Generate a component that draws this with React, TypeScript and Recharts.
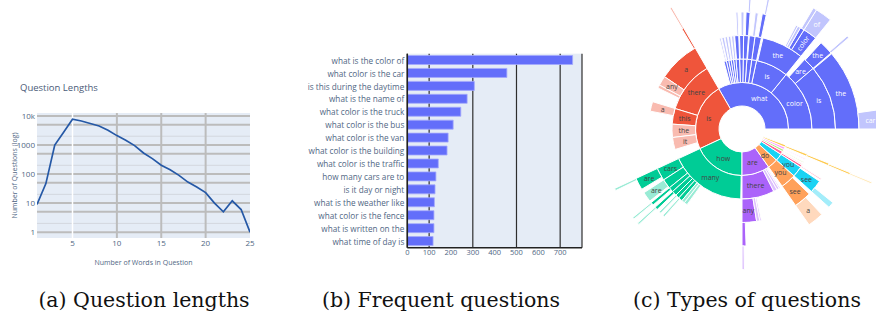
import { LineChart, Line, XAxis, YAxis, CartesianGrid, ReferenceLine, BarChart, Bar, PieChart, Pie, Cell } from 'recharts';

const FONT = '"Open Sans", "Noto Sans", sans-serif';
const AXIS_TEXT = '#506784';
const PLOT_BG = '#e5ecf6';

// (a) question lengths
const wordCounts = [1, 2, 3, 4, 5, 6, 7, 8, 9, 10, 11, 12, 13, 14, 15, 16, 17, 18, 19, 20, 21, 22, 23, 24, 25];
const questionCounts = [9, 47, 1000, 2750, 7700, 6700, 5500, 4500, 3200, 2100, 1450, 950, 530, 340, 200, 140, 90, 53, 36, 23, 10, 5, 12, 6, 1];
const logTicks = [1, 2, 5, 10, 20, 50, 100, 200, 500, 1000, 2000, 5000, 10000];
const wordTicks = [5, 10, 15, 20, 25];

// (b) frequent questions
const questions = [
  'what is the color of', 'what color is the car', 'is this during the daytime', 'what is the name of',
  'what color is the truck', 'what color is the bus', 'what color is the van', 'what color is the building',
  'what color is the traffic', 'how many cars are to', 'is it day or night', 'what is the weather like',
  'what color is the fence', 'what is written on the', 'what time of day is',
];
const questionFreq = [757, 456, 307, 274, 245, 210, 187, 182, 142, 131, 127, 124, 122, 122, 118];
const freqTicks = [0, 100, 200, 300, 400, 500, 600, 700];

// (c) types of questions: share of the full circle (degrees), one list per ring
const ring1 = [
  { id: 'what', v: 120 }, { id: 'is', v: 85 }, { id: 'how', v: 65 }, { id: 'are', v: 35 },
  { id: 'do', v: 13 }, { id: 'can', v: 9 }, { id: 'does', v: 4 }, { id: 'has', v: 3 },
  { id: 'which', v: 3 }, { id: 'where', v: 3 },
];
const ring2 = [
  { id: 'what/color', v: 51 }, { id: 'what/is', v: 27 }, { id: 'what/kind', v: 4 }, { id: 'what/type', v: 4 },
  { id: 'what/time', v: 3 }, { id: 'what/sport', v: 3 }, { id: 'what/animal', v: 3 }, { id: 'what/room', v: 2 },
  { id: 'what/brand', v: 2 }, { id: 'what/does', v: 2 }, { id: 'what/are', v: 2 }, { id: 'what/number', v: 2 },
  { id: 'is/there', v: 43 }, { id: 'is/this', v: 13 }, { id: 'is/the', v: 11 }, { id: 'is/it', v: 10 },
  { id: 'how/many', v: 64 },
  { id: 'are/there', v: 27 }, { id: 'are/the', v: 3 }, { id: 'are/these', v: 2 }, { id: 'are/they', v: 1 },
  { id: 'do/you', v: 13 }, { id: 'can/you', v: 9 },
  { id: 'does/the', v: 2 }, { id: 'does/this', v: 1 }, { id: 'has/the', v: 1 },
  { id: 'which/of', v: 1 }, { id: 'where/is', v: 2 },
];
const ring3 = [
  { id: 'what/color/is', v: 40.5 }, { id: 'what/color/are', v: 7.5 }, { id: 'what/is/the', v: 26 },
  { id: 'what/kind/of', v: 4 }, { id: 'what/type/of', v: 3.5 }, { id: 'what/time/is', v: 3 },
  { id: 'what/sport/is', v: 2.5 }, { id: 'what/animal/is', v: 2.5 }, { id: 'what/room/is', v: 1.5 },
  { id: 'what/brand/is', v: 1.5 }, { id: 'what/does/the', v: 1.5 }, { id: 'what/are/the', v: 1.5 },
  { id: 'what/number/is', v: 1 },
  { id: 'is/there/a', v: 26 }, { id: 'is/there/any', v: 6 }, { id: 'is/there/an', v: 2 }, { id: 'is/this/a', v: 6 },
  { id: 'how/many/cars', v: 8 }, { id: 'how/many/people', v: 6 }, { id: 'how/many/birds', v: 3 },
  { id: 'how/many/planes', v: 3 }, { id: 'how/many/trains', v: 2.5 }, { id: 'how/many/animals', v: 2.5 },
  { id: 'how/many/windows', v: 2 }, { id: 'how/many/trees', v: 2 },
  { id: 'are/there/any', v: 9 }, { id: 'are/there/people', v: 2 }, { id: 'are/there/clouds', v: 1 },
  { id: 'do/you/see', v: 11 }, { id: 'can/you/see', v: 8 }, { id: 'does/the/man', v: 1 },
  { id: 'where/is/the', v: 1.5 },
];
const ring4 = [
  { id: 'what/color/is/the', v: 40 }, { id: 'what/color/are/the', v: 7 },
  { id: 'what/is/the/color', v: 7 }, { id: 'what/is/the/name', v: 2 }, { id: 'what/is/the/man', v: 1.5 },
  { id: 'what/is/the/person', v: 1 },
  { id: 'what/kind/of/animal', v: 2 }, { id: 'what/type/of/food', v: 1.5 }, { id: 'what/time/is/it', v: 2 },
  { id: 'what/sport/is/being', v: 1.5 }, { id: 'what/animal/is/this', v: 1 },
  { id: 'is/there/a/person', v: 1 },
  { id: 'how/many/cars/are', v: 6 }, { id: 'how/many/people/are', v: 5 }, { id: 'how/many/birds/are', v: 1.5 },
  { id: 'how/many/planes/are', v: 1.5 }, { id: 'how/many/trains/are', v: 1 }, { id: 'how/many/animals/are', v: 1 },
  { id: 'are/there/any/people', v: 2 },
  { id: 'do/you/see/a', v: 8 }, { id: 'can/you/see/the', v: 3 }, { id: 'where/is/the/man', v: 1 },
];
const ring5 = [
  { id: 'what/color/is/the/car', v: 8 }, { id: 'what/color/are/the/walls', v: 1 },
  { id: 'what/is/the/color/of', v: 7 }, { id: 'what/is/the/name/of', v: 1.5 },
  { id: 'what/kind/of/animal/is', v: 1 }, { id: 'what/time/is/it/in', v: 1 },
  { id: 'is/there/a/person/in', v: 0.8 },
  { id: 'how/many/cars/are/there', v: 1 }, { id: 'how/many/birds/are/there', v: 0.8 },
  { id: 'how/many/planes/are/there', v: 0.8 },
  { id: 'are/there/any/people/in', v: 1 }, { id: 'where/is/the/man/in', v: 0.8 },
];

const groupColors: Record<string, [string, string]> = {
  what: ['#636efa', '#c1c5fd'],
  is: ['#ef553b', '#f9bbb0'],
  how: ['#00cc96', '#99ebd5'],
  are: ['#ab63fa', '#ddc1fd'],
  do: ['#ffa15a', '#ffd9bd'],
  can: ['#19d3f3', '#a3edfa'],
  does: ['#ff6692', '#ffc2d3'],
  has: ['#b6e880', '#e2f6cc'],
  which: ['#ff97ff', '#ffd5ff'],
  where: ['#fecb52', '#ffeaba'],
};

const SUN_CX = 162;
const SUN_CY = 129;
const HOLE = 23;
const RING = 23.5;

type Seg = { id: string; v: number; gap?: boolean };

const parentOf = (id: string) => id.split('/').slice(0, -1).join('/');

function buildRings(): Seg[][] {
  const levels = [ring1, ring2, ring3, ring4, ring5];
  const out: Seg[][] = [];
  let parents: Seg[] = [{ id: '', v: 360 }];
  levels.forEach((level) => {
    const segs: Seg[] = [];
    parents.forEach((p) => {
      if (p.gap) {
        segs.push({ id: 'gap', v: p.v, gap: true });
        return;
      }
      let used = 0;
      level.filter((k) => parentOf(k.id) === p.id).forEach((k) => {
        segs.push({ ...k });
        used += k.v;
      });
      if (p.v - used > 1e-6) segs.push({ id: 'gap', v: p.v - used, gap: true });
    });
    out.push(segs);
    parents = segs;
  });
  return out;
}

const rings = buildRings();
const hasKids = new Set([ring2, ring3, ring4, ring5].flat().map((s) => parentOf(s.id)));

const segColor = (s: Seg, depth: number) => {
  const [base, pale] = groupColors[s.id.split('/')[0]];
  return depth >= 1 && !hasKids.has(s.id) ? pale : base;
};

const lengthData = wordCounts.map((w, i) => ({ words: w, count: questionCounts[i] }));
const freqData = questions.map((q, i) => ({ q, n: questionFreq[i] }));

const LogTick = (props: any) => {
  const { x, y, payload } = props;
  const v = payload.value;
  const major = [1, 10, 100, 1000, 10000].includes(v);
  const label = v === 10000 ? '10k' : major ? String(v) : String(v).charAt(0);
  return (
    <text x={x} y={y} dy={major ? 3 : 2} textAnchor="end" fontSize={major ? 8 : 5.5} fill={AXIS_TEXT}>
      {label}
    </text>
  );
};

// plain text tick so the long questions stay on one line
const QuestionTick = (props: any) => {
  const { x, y, payload } = props;
  return (
    <text x={x} y={y} textAnchor="end" dominantBaseline="central" fontSize={8.2} fill={AXIS_TEXT}>
      {payload.value}
    </text>
  );
};

function LengthChart() {
  return (
    <div style={{ position: 'absolute', left: 0, top: 0 }}>
      <div style={{ position: 'absolute', left: 20, top: 81, fontSize: 9.5, color: '#4b5b78', whiteSpace: 'nowrap' }}>
        Question Lengths
      </div>
      <LineChart width={262} height={316} data={lengthData} margin={{ top: 113, right: 12, bottom: 48, left: 0 }}>
        <CartesianGrid fill={PLOT_BG} stroke="none" horizontal={false} vertical={false} />
        {logTicks.map((v) => (
          <ReferenceLine key={'y' + v} y={v} stroke={String(v)[0] === '2' ? '#d3d7de' : '#bcbcbc'} strokeWidth={String(v)[0] === '2' ? 1 : 2} />
        ))}
        {[5, 10, 15, 20].map((v) => (
          <ReferenceLine key={'x' + v} x={v} stroke={v === 5 ? '#ffffff' : '#bcbcbc'} strokeWidth={v === 5 ? 1.5 : 2} />
        ))}
        <XAxis
          dataKey="words"
          type="number"
          domain={[1, 25]}
          ticks={wordTicks}
          allowDataOverflow
          axisLine={false}
          tickLine={false}
          tickSize={0}
          tickMargin={2}
          height={30}
          tick={{ fontSize: 8, fill: AXIS_TEXT }}
          label={{ value: 'Number of Words in Question', position: 'insideBottom', offset: 3, fontSize: 7, fill: AXIS_TEXT }}
        />
        <YAxis
          type="number"
          scale="log"
          domain={[0.63, 12600]}
          ticks={logTicks}
          allowDataOverflow
          axisLine={false}
          tickLine={false}
          tickSize={0}
          tickMargin={2}
          width={37}
          tick={<LogTick />}
          label={{
            content: (p: any) => {
              const vb = p.viewBox || {};
              const x = (vb.x ?? 0) + 14;
              const y = vb.height != null ? vb.y + vb.height / 2 : 175;
              return (
                <text x={x} y={y} transform={`rotate(-90 ${x} ${y})`} textAnchor="middle" dominantBaseline="central" fontSize={7} fill={AXIS_TEXT}>
                  Number of Questions (log)
                </text>
              );
            },
          }}
        />
        <Line type="linear" dataKey="count" stroke="#2558a6" strokeWidth={1.7} dot={false} isAnimationActive={false} />
      </LineChart>
    </div>
  );
}

function FreqChart() {
  return (
    <div style={{ position: 'absolute', left: 290, top: 0 }}>
      <BarChart
        layout="vertical"
        width={300}
        height={316}
        data={freqData}
        margin={{ top: 53.7, right: 8, bottom: 48.3, left: 0 }}
        barCategoryGap="14%"
      >
        <CartesianGrid fill={PLOT_BG} horizontal={false} stroke="#2e2e2e" strokeWidth={1.2} />
        <XAxis
          type="number"
          domain={[0, 800]}
          ticks={freqTicks}
          allowDataOverflow
          axisLine={{ stroke: '#222', strokeWidth: 1.5 }}
          tickLine={false}
          tickSize={0}
          tickMargin={2}
          height={20}
          tick={{ fontSize: 7.5, fill: AXIS_TEXT }}
        />
        <YAxis
          type="category"
          dataKey="q"
          width={117.3}
          axisLine={{ stroke: '#222', strokeWidth: 1.5 }}
          tickLine={false}
          tickSize={0}
          tickMargin={3}
          interval={0}
          tick={<QuestionTick />}
        />
        <Bar dataKey="n" fill="#636efa" stroke="#a4aafc" strokeWidth={0.8} isAnimationActive={false} />
      </BarChart>
    </div>
  );
}

const makeSunLabel = (depth: number) => (p: any) => {
  const s: Seg = p.payload && p.payload.id ? p.payload : p;
  if (!s || s.gap || !s.id) return null;
  const name = s.id.split('/').pop() as string;
  const mid = p.midAngle ?? (p.startAngle + p.endAngle) / 2;
  const rIn = HOLE + depth * RING;
  const r = rIn + RING / 2;
  const rad = (-mid * Math.PI) / 180;
  const x = SUN_CX + r * Math.cos(rad);
  const y = SUN_CY + r * Math.sin(rad);
  const arc = ((s.v * Math.PI) / 180) * r;
  const w = name.length * 4 + 2;
  // horizontal text if it (about) fits the sector, otherwise along the radius
  const fitsFlat = w * Math.abs(Math.sin(rad)) <= arc * 1.15 && w * Math.abs(Math.cos(rad)) <= RING - 1;
  let rot = 0;
  if (!fitsFlat) {
    if (arc < 7 || RING < w) return null;
    rot = -mid;
    if (mid > 90 && mid < 270) rot += 180;
  }
  const fill = s.id.startsWith('what') ? '#ffffff' : '#444444';
  return (
    <text key={s.id} x={x} y={y} transform={`rotate(${rot} ${x} ${y})`} textAnchor="middle" dominantBaseline="central" fontSize={7} fill={fill}>
      {name}
    </text>
  );
};

function TypesChart() {
  return (
    <div style={{ position: 'absolute', left: 580, top: 0 }}>
      <PieChart width={296} height={290} margin={{ top: 0, right: 0, bottom: 0, left: 0 }}>
        {rings.map((segs, i) => (
          <Pie
            key={i}
            data={segs}
            dataKey="v"
            nameKey="id"
            cx={SUN_CX}
            cy={SUN_CY}
            innerRadius={HOLE + i * RING}
            outerRadius={HOLE + (i + 1) * RING}
            startAngle={0}
            endAngle={360}
            stroke="#ffffff"
            strokeWidth={1}
            label={makeSunLabel(i)}
            labelLine={false}
            isAnimationActive={false}
          >
            {segs.map((s, j) => (
              <Cell key={j} fill={s.gap ? 'none' : segColor(s, i)} stroke={s.gap ? 'none' : '#ffffff'} />
            ))}
          </Pie>
        ))}
      </PieChart>
    </div>
  );
}

const captionStyle = {
  position: 'absolute' as const,
  top: 287,
  fontFamily: '"DejaVu Serif", "Liberation Serif", serif',
  fontSize: 20.5,
  color: '#111',
  whiteSpace: 'nowrap' as const,
  textAlign: 'center' as const,
  width: 300,
  lineHeight: '26px',
};

export default function App() {
  return (
    <div style={{ position: 'absolute', left: 0, top: 0, width: 876, height: 316, background: '#fff', overflow: 'hidden', fontFamily: FONT }}>
      <LengthChart />
      <FreqChart />
      <TypesChart />
      <div style={{ ...captionStyle, left: 144 - 150 }}>(a) Question lengths</div>
      <div style={{ ...captionStyle, left: 441 - 150 }}>(b) Frequent questions</div>
      <div style={{ ...captionStyle, left: 747 - 150 }}>(c) Types of questions</div>
    </div>
  );
}
